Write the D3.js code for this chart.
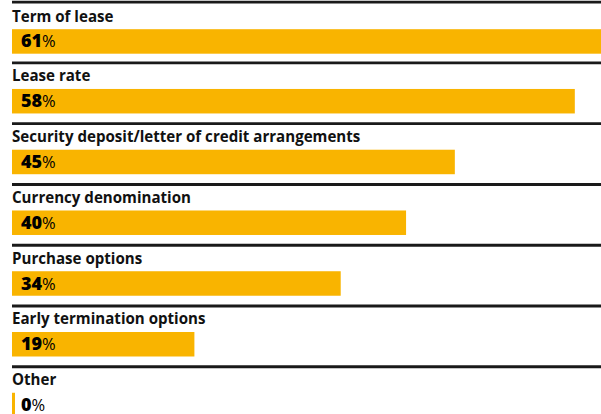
<!DOCTYPE html>
<html>
<head>
<meta charset="utf-8">
<script src="https://cdn.jsdelivr.net/npm/d3@7"></script>
<style>
  body { margin: 0; background: #fff; }
  svg { display: block; font-family: "Open Sans", sans-serif; }
</style>
</head>
<body>
<div id="chart"></div>
<script>
var categories = ["Term of lease", "Lease rate", "Security deposit/letter of credit arrangements",
  "Currency denomination", "Purchase options", "Early termination options", "Other"];
// bar lengths; labels show them rounded
var values = [61, 57.7, 45.4, 40.4, 33.7, 18.7, 0];

var width = 601, height = 414;
var left = 12;

var svg = d3.select("#chart").append("svg")
  .attr("width", width).attr("height", height);

// ~9.75px per percentage point, first bar runs off the right edge
var x = d3.scaleLinear().domain([0, 61]).range([left, 607]);
var y = d3.scaleBand().domain(categories).range([2.2, 2.2 + 60.76 * categories.length]);
var fmt = d3.format(".0f");

var rows = svg.selectAll("g.row").data(categories).enter()
  .append("g").attr("class", "row")
  .attr("transform", function (d, i) { return "translate(0," + (y(d) + (i === 0 ? 1 : 0)) + ")"; });

rows.append("line")
  .attr("x1", left).attr("x2", width)
  .attr("y1", function (d, i) { return i === 0 ? -1 : 0; })
  .attr("y2", function (d, i) { return i === 0 ? -1 : 0; })
  .attr("stroke", "#1a1a1a").attr("stroke-width", 2.8);

rows.append("text")
  .attr("x", left).attr("y", 18.4)
  .attr("font-size", "15.1px").attr("font-weight", 700).attr("fill", "#111")
  .text(function (d) { return d; });

rows.append("rect")
  .attr("x", left).attr("y", 26)
  .attr("height", 24.5)
  .attr("width", function (d, i) { return Math.max(3, x(values[i]) - left); })
  .attr("fill", "#f9b400");

var lbl = rows.append("text")
  .attr("x", 21).attr("y", 44.3)
  .attr("fill", "#000");
lbl.append("tspan").attr("font-weight", 800).attr("font-size", "18px")
  .text(function (d, i) { return fmt(values[i]); });
lbl.append("tspan").attr("font-weight", 400).attr("font-size", "16.5px").text("%");
</script>
</body>
</html>
